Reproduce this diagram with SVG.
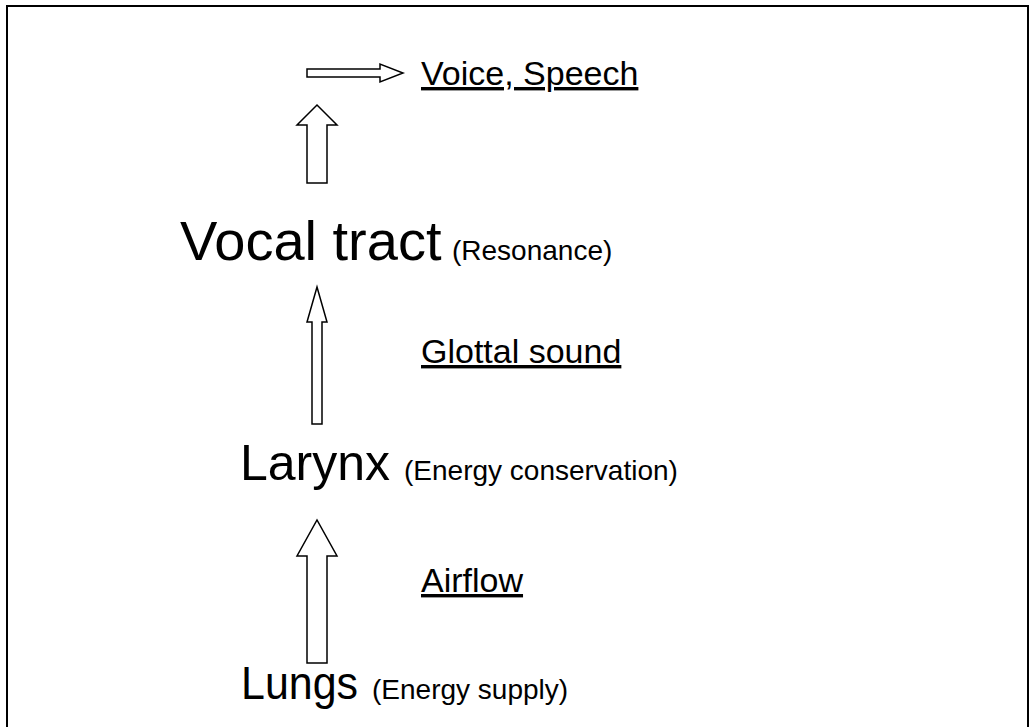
<svg xmlns="http://www.w3.org/2000/svg" width="1035" height="727" viewBox="0 0 1035 727">
  <style>
    .big { font-family: "Liberation Sans", Arial, sans-serif; fill: #000; }
    .sub { font-family: "Liberation Sans", Arial, sans-serif; font-size: 28px; fill: #000; }
    .lbl { font-family: "Liberation Sans", Arial, sans-serif; font-size: 34px; fill: #000; text-decoration: underline; }
    .arrow { fill: #fff; stroke: #000; stroke-width: 1.5; stroke-linejoin: miter; }
  </style>
  <rect width="1035" height="727" fill="#fff"/>
  <!-- frame -->
  <path d="M7 740 V6 H1028 V740" fill="none" stroke="#000" stroke-width="2"/>

  <g id="voice">
    <text class="lbl" x="421" y="85">Voice, Speech</text>
  </g>
  <g id="vocal-tract">
    <text class="big" x="180" y="260" font-size="56">Vocal tract</text>
    <text class="sub" x="452" y="260">(Resonance)</text>
  </g>
  <g id="larynx">
    <text class="big" x="240" y="480" font-size="50">Larynx</text>
    <text class="sub" x="404" y="480">(Energy conservation)</text>
  </g>
  <g id="lungs">
    <text class="big" x="241" y="699" font-size="46" textLength="117" lengthAdjust="spacingAndGlyphs">Lungs</text>
    <text class="sub" x="372" y="699">(Energy supply)</text>
  </g>

  <g id="connectors">
    <!-- vocal tract to voice output -->
    <polygon class="arrow" points="307,69 380,69 380,64 403,73 380,82 380,77 307,77"/>
    <polygon class="arrow" points="307,183 307,125 297,125 317,105 337,125 327,125 327,183"/>
    <!-- larynx to vocal tract -->
    <polygon class="arrow" points="312,424 312,322 307,322 317,287 327,322 322,322 322,424"/>
    <text class="lbl" x="421" y="363">Glottal sound</text>
    <!-- lungs to larynx -->
    <polygon class="arrow" points="307,663 307,556 297,556 317,520 337,556 327,556 327,663"/>
    <text class="lbl" x="421" y="592">Airflow</text>
  </g>
</svg>
